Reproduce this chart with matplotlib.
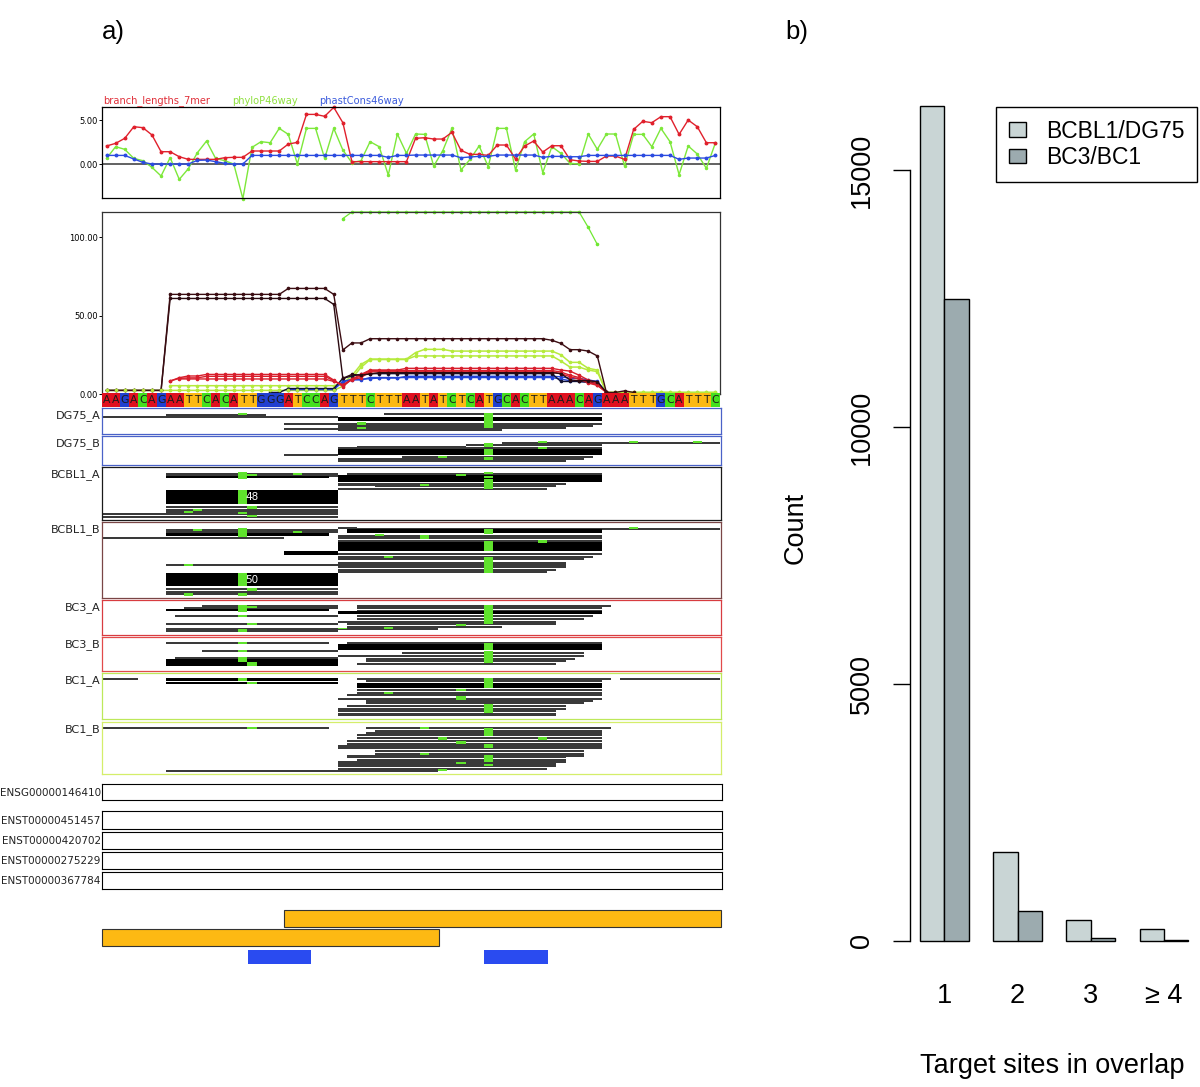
import numpy as np
import matplotlib
matplotlib.use('Agg')
import matplotlib.pyplot as plt
from matplotlib.patches import Patch

W, H = 1200, 1087
nan = float('nan')

# Sequence shown under the coverage plot
sequence = "AAGACAGAATTCACATTGGGATCCAGTTTCTTTAATATCTCATGCACTTAAACAGAAATTTGCATTTC"
base_colors = {'A': '#e0101f', 'C': '#45e01e', 'G': '#2140d0', 'T': '#fdb913'}

# Conservation tracks, one value per base
branch_lengths = [2.05, 2.35, 2.92, 4.24, 4.13, 3.30, 1.40, 1.40, 0.83, 0.53, 0.53, 0.53, 0.53, 0.72, 0.76, 0.76,
                  1.48, 1.48, 1.48, 1.48, 2.27, 2.46, 5.64, 5.64, 5.42, 6.44, 4.70, 0.27, 0.27, 0.27, 0.27, 0.27,
                  0.27, 0.27, 2.92, 2.99, 2.84, 2.84, 3.60, 1.55, 1.10, 1.10, 0.98, 2.16, 2.16, 0.57, 2.05, 2.61,
                  1.36, 2.08, 2.08, 0.49, 0.34, 0.30, 0.30, 0.91, 0.91, 0.53, 3.94, 4.85, 4.70, 5.38, 5.38, 3.37,
                  5.00, 4.24, 2.42, 2.42]
phylop = [0.64, 1.97, 1.67, 0.64, 0.38, -0.38, -1.36, 0.72, -1.74, -0.53, 1.29, 2.61, 0.64, 0.38, 0.00, -3.94,
          1.89, 2.54, 2.42, 4.05, 3.37, 0.00, 4.05, 4.05, 0.64, 4.05, 1.59, 0.15, 0.38, 2.54, 1.97, -1.25,
          3.41, 1.21, 3.41, 3.37, -0.23, 1.52, 4.05, -0.68, 0.53, 2.05, -0.30, 4.05, 4.05, -0.68, 2.54, 3.41,
          -0.98, 1.97, 1.21, 0.08, 0.00, 3.41, 1.67, 3.41, 3.41, -0.23, 3.37, 3.37, 1.97, 4.05, 2.54, -1.21,
          2.05, 1.14, -0.49, 2.42]
phastcons = [0.98, 0.98, 0.98, 0.57, 0.19, 0.00, 0.00, 0.00, 0.00, 0.00, 0.42, 0.45, 0.27, 0.08, 0.00, 0.00,
             0.98, 0.98, 0.98, 0.98, 0.98, 0.98, 0.98, 0.98, 0.98, 0.98, 0.98, 0.98, 0.98, 0.98, 0.98, 0.76,
             0.98, 0.98, 1.02, 1.02, 1.02, 1.02, 1.02, 0.72, 0.80, 0.87, 0.87, 1.02, 1.02, 1.02, 1.02, 1.02,
             0.76, 0.87, 0.87, 0.83, 0.83, 0.98, 0.98, 0.98, 0.98, 0.98, 0.98, 0.98, 0.98, 0.98, 0.98, 0.53,
             0.68, 0.68, 0.68, 0.98]

# Coverage per base for each library
cov_bright = [nan]*26 + [112.0] + [116.2]*26 + [106.4, 95.5] + [nan]*13
cov_lime1 = [nan]*7 + [5.3]*19 + [6.8, 11.7, 18.9] + [22.3]*5 + [26.4] + [28.5]*3 + [27.4]*12 + \
    [25.0, 20.2, 20.2, 16.4, 15.3, 1.0] + [1.0]*12
cov_lime2 = [2.3]*26 + [5.0, 10.0, 17.0] + [22.0]*5 + [24.3]*16 + [21.0, 17.2, 17.2, 15.3, 14.3, 1.0] + [1.0]*12
cov_blue1 = [nan]*20 + [3.2]*6 + [7.9, 9.4, 9.4, 9.8] + [10.2]*3 + [11.3]*17 + [11.0, 10.0, 10.0, 9.0, 8.0, 1.0] + [nan]*12
cov_blue2 = [nan]*20 + [2.8]*6 + [8.0, 9.0, 9.0] + [10.5]*21 + [9.5, 8.5, 8.0, 7.5, 7.0, 1.0] + [nan]*12
cov_navy = [nan]*18 + [1.0, 1.0] + [3.5]*6 + [10.0, 11.5, 12.5, 13.0] + [13.0]*20 + [8.0, 8.0, 8.0, 7.5, 7.0, 1.0] + [nan]*12
cov_red1 = [nan]*7 + [8.3, 10.4, 11.5, 11.5] + [12.5]*14 + [8.9, 4.7, 9.5, 12.5] + [15.3]*4 + [16.4]*17 + \
    [15.3, 14.6, 12.0, 8.9, 6.8, 1.0] + [nan]*12
cov_red2 = [nan]*7 + [8.3, 10.0, 10.3, 10.3] + [11.3]*14 + [8.5, 5.5, 9.5, 11.5] + [15.0]*21 + \
    [14.0, 12.0, 10.5, 7.5, 6.0, 1.0] + [nan]*12
cov_red3 = [nan]*8 + [9.6]*17 + [8.0, 6.0, 9.0, 10.5] + [14.2]*21 + [13.0, 11.0, 9.5, 7.0, 5.5, 1.0] + [nan]*12
cov_dark1 = [2.3]*7 + [63.6]*13 + [67.4]*5 + [63.6, 28.1, 32.6, 32.6] + [35.3]*20 + \
    [34.3, 32.3, 28.3, 28.3, 27.4, 24.3, 1.0, 1.0, 2.0, 1.0] + [nan]*9
cov_dark2 = [2.3]*7 + [61.0]*18 + [57.2, 10.0, 12.5, 12.0, 12.8] + [13.6]*20 + [13.0, 9.0, 8.5, 8.5, 7.9, 1.0] + [nan]*12

# Aligned reads: thin rows (start, end, row) and solid piles (start, end, row, depth)
# Mismatches: (column, row, depth)
dg75_a_reads = [(0, 26, 2.9), (7, 18, 2.2), (20, 26, 5.6), (20, 26, 7.5), (31, 55, 2.0), (26, 55, 5.6), (26, 54, 6.3),
                (26, 51, 7.0), (26, 44, 7.7)]
dg75_a_piles = [(26, 55, 3.4, 1.6)]
dg75_a_mism = [(42, 1.8, 5.8), (15, 2.0, 0.7), (28, 5.4, 0.8), (28, 7.3, 0.7)]

dg75_b_reads = [(44, 68, 2.1), (40, 55, 3.0), (28, 40, 3.6), (26, 55, 4.0), (20, 26, 6.6), (33, 54, 7.6), (26, 53, 8.2),
                (26, 51, 8.9)]
dg75_b_piles = [(26, 55, 4.8, 2.2)]
dg75_b_mism = [(48, 2.0, 0.7), (58, 2.0, 0.7), (65, 2.0, 0.7), (48, 4.0, 0.7), (42, 2.5, 1.5), (42, 4.7, 2.4),
               (42, 7.8, 1.2), (37, 7.5, 0.7)]

bcbl1_a_reads = [(7, 26, 2.2), (7, 26, 2.9), (7, 26, 14.6), (7, 26, 15.6), (7, 26, 16.5), (0, 26, 17.4), (0, 26, 18.4),
                 (27, 55, 2.2), (26, 51, 6.0), (26, 30, 6.4), (30, 50, 6.9), (26, 49, 7.9)]
bcbl1_a_piles = [(7, 25, 3.4, 0.9), (7, 26, 8.75, 5.0), (26, 55, 3.1, 2.5)]
bcbl1_a_mism = [(15, 2.0, 2.6), (16, 2.7, 0.7), (21, 2.2, 0.7), (9, 16.4, 0.9), (10, 15.6, 0.7), (15, 17.0, 0.7),
                (16, 18.0, 0.7), (15, 8.75, 5.0), (16, 14.7, 1.2), (42, 2.0, 0.6), (42, 3.3, 1.0), (42, 4.6, 3.5),
                (39, 2.6, 0.7), (35, 6.3, 0.7)]

bcbl1_b_reads = [(7, 26, 2.6), (7, 26, 3.3), (0, 20, 5.7), (7, 26, 15.6), (7, 26, 24.9), (7, 26, 25.9), (7, 26, 26.7),
                 (26, 28, 2.0), (28, 68, 2.1), (27, 55, 3.0), (26, 55, 4.9), (26, 55, 5.8), (26, 55, 6.6),
                 (26, 55, 11.6), (26, 54, 12.7), (26, 53, 13.6), (26, 51, 14.8), (26, 51, 15.7), (26, 51, 16.6),
                 (26, 50, 17.5), (26, 49, 18.4)]
bcbl1_b_piles = [(7, 25, 4.0, 1.2), (7, 26, 19.1, 5.0), (20, 26, 11.0, 1.5), (27, 55, 2.7, 1.6), (26, 55, 7.5, 3.2)]
bcbl1_b_mism = [(15, 2.4, 3.2), (10, 2.6, 0.7), (21, 3.3, 0.7), (9, 15.6, 0.7), (15, 19.1, 5.0), (16, 24.6, 1.2),
                (9, 26.7, 0.9), (15, 26.7, 0.9), (58, 1.7, 0.8), (42, 2.6, 1.8), (42, 7.3, 3.6), (42, 13.0, 6.0),
                (35, 5.0, 1.5), (48, 6.8, 1.0), (31, 12.9, 0.7), (30, 4.5, 0.7)]

bc3_a_reads = [(11, 26, 2.0), (9, 26, 2.6), (8, 26, 5.7), (7, 26, 8.5), (7, 26, 10.4), (7, 26, 11.2), (28, 56, 2.0),
               (28, 55, 2.7), (28, 55, 3.6), (28, 54, 5.7), (28, 53, 6.6), (26, 50, 7.7), (27, 50, 8.7),
               (27, 44, 9.6), (26, 37, 10.4)]
bc3_a_piles = [(7, 25, 3.4, 0.9), (26, 28, 4.3, 0.8), (28, 55, 4.2, 1.0)]
bc3_a_mism = [(15, 2.0, 2.6), (16, 2.4, 0.7), (15, 5.5, 0.9), (16, 8.5, 0.9), (15, 11.0, 0.8), (42, 2.0, 7.0),
              (31, 10.0, 0.7), (39, 9.0, 0.7), (26, 10.3, 0.7)]

bc3_b_reads = [(7, 25, 2.0), (11, 26, 5.0), (8, 26, 7.6), (27, 55, 2.0), (33, 53, 5.5), (26, 53, 6.7), (29, 52, 7.7),
               (29, 51, 8.8), (28, 50, 9.6)]
bc3_b_piles = [(7, 26, 8.25, 2.5), (26, 55, 2.6, 2.15)]
bc3_b_mism = [(15, 2.0, 0.7), (15, 5.0, 0.7), (15, 7.5, 1.9), (16, 9.4, 1.5), (42, 2.1, 2.65), (42, 5.2, 4.5)]

bc1_a_reads = [(0, 4, 2.0), (7, 26, 2.2), (28, 56, 2.0), (57, 68, 2.0), (29, 55, 2.8), (28, 55, 6.0), (28, 55, 7.0),
               (27, 55, 8.0), (26, 55, 9.3), (29, 54, 10.1), (29, 53, 11.0), (27, 51, 12.0), (26, 51, 13.0),
               (26, 50, 14.0), (26, 50, 14.9), (26, 50, 15.5)]
bc1_a_piles = [(7, 26, 2.0, 1.0), (7, 26, 3.2, 0.9), (28, 55, 3.9, 1.8)]
bc1_a_mism = [(15, 1.8, 1.2), (16, 3.3, 1.0), (42, 1.8, 4.0), (39, 6.0, 0.9), (39, 8.6, 1.5), (31, 7.2, 0.7),
              (42, 11.5, 3.5)]

bc1_b_reads = [(0, 25, 2.0), (7, 26, 18.0), (29, 56, 2.0), (30, 55, 2.9), (29, 55, 3.7), (28, 55, 4.6), (28, 55, 5.6),
               (27, 55, 6.8), (27, 55, 7.8), (26, 55, 8.7), (26, 55, 9.4), (30, 53, 10.6), (30, 53, 11.6),
               (27, 53, 12.5), (27, 51, 12.9), (28, 51, 13.7), (26, 51, 14.6), (26, 50, 15.4), (26, 50, 16.2),
               (26, 49, 17.1), (26, 37, 18.0)]
bc1_b_piles = []
bc1_b_mism = [(16, 2.0, 0.7), (35, 2.0, 0.7), (42, 2.3, 2.9), (37, 5.7, 0.9), (39, 7.0, 1.2), (48, 5.7, 0.9),
              (42, 8.2, 1.4), (35, 11.6, 0.8), (42, 12.2, 2.8), (39, 15.0, 0.7), (42, 15.7, 0.7), (37, 17.5, 0.9)]

track_names = ['DG75_A', 'DG75_B', 'BCBL1_A', 'BCBL1_B', 'BC3_A', 'BC3_B', 'BC1_A', 'BC1_B']
track_reads = [dg75_a_reads, dg75_b_reads, bcbl1_a_reads, bcbl1_b_reads, bc3_a_reads, bc3_b_reads, bc1_a_reads, bc1_b_reads]
track_piles = [dg75_a_piles, dg75_b_piles, bcbl1_a_piles, bcbl1_b_piles, bc3_a_piles, bc3_b_piles, bc1_a_piles, bc1_b_piles]
track_mism = [dg75_a_mism, dg75_b_mism, bcbl1_a_mism, bcbl1_b_mism, bc3_a_mism, bc3_b_mism, bc1_a_mism, bc1_b_mism]

gene_names = ['ENSG00000146410', 'ENST00000451457', 'ENST00000420702', 'ENST00000275229', 'ENST00000367784']

# Site annotations below the gene models (start, end)
orange_sites = [(20, 68), (0, 37)]
blue_sites = [(16, 23), (42, 49)]

# Panel b
overlap_labels = ['1', '2', '3', '\u2265 4']
counts_bcbl1 = [16250, 1730, 410, 230]
counts_bc3 = [12490, 585, 60, 15]


def px_axes(fig, x0, y0, x1, y1):
    # axes from pixel box, y measured from the top of the picture
    return fig.add_axes([x0 / W, 1 - y1 / H, (x1 - x0) / W, (y1 - y0) / H])


plt.rcParams['font.family'] = 'DejaVu Sans'
fig = plt.figure(figsize=(W / 100, H / 100), dpi=100)
helv = ['Liberation Sans', 'DejaVu Sans']
x = np.arange(len(sequence)) + 0.5

# conservation plot
ax = px_axes(fig, 102, 107, 720, 198)
ax.axhline(0, color='#555555', lw=1.3, zorder=1)
ax.plot(x, phylop, '-o', color='#7de83a', lw=1.0, ms=1.5, clip_on=False)
ax.plot(x, branch_lengths, '-o', color='#e0202c', lw=1.0, ms=1.8, clip_on=False)
ax.plot(x, phastcons, '-o', color='#2b4be0', lw=1.0, ms=1.8, clip_on=False)
ax.set_xlim(0, 68)
ax.set_ylim(-3.86, 6.48)
ax.set_xticks([])
ax.set_yticks([0, 5], ['0.00', '5.00'])
ax.tick_params(axis='y', labelsize=6, length=2, pad=1, width=0.7)
for s in ax.spines.values():
    s.set_linewidth(0.9)
ax.text(0.002, 1.008, 'branch_lengths_7mer', color='#e0303a', fontsize=7.1, transform=ax.transAxes, va='bottom')
ax.text(0.2105, 1.008, 'phyloP46way', color='#8fe03f', fontsize=7.1, transform=ax.transAxes, va='bottom')
ax.text(0.352, 1.008, 'phastCons46way', color='#3b5bdc', fontsize=7.1, transform=ax.transAxes, va='bottom')

# coverage plot
ax = px_axes(fig, 102, 212, 720, 394)
for y, col, lw in [(cov_bright, '#6fe831', 0.9), (cov_lime1, '#b5ea3c', 1.1), (cov_lime2, '#b5ea3c', 1.1),
                   (cov_blue2, '#2343d8', 1.0), (cov_blue1, '#2343d8', 1.0), (cov_navy, '#111133', 1.0),
                   (cov_red3, '#d81e2c', 1.0), (cov_red2, '#d81e2c', 1.0), (cov_red1, '#d81e2c', 1.0),
                   (cov_dark2, '#2a0a10', 1.0), (cov_dark1, '#3b0d12', 1.0)]:
    ax.plot(x, y, '-o', color=col, lw=lw, ms=1.6, clip_on=False)
ax.plot(x[:26], cov_lime2[:26], 'o', color='#b5ea3c', ms=1.6, clip_on=False, zorder=4)
ax.set_xlim(0, 68)
ax.set_ylim(0, 116.2)
ax.set_xticks([])
ax.set_yticks([0, 50, 100], ['0.00', '50.00', '100.00'])
ax.tick_params(axis='y', labelsize=6, length=2, pad=1, width=0.7)
for s in ax.spines.values():
    s.set_linewidth(0.9)
    s.set_color('#333333')

# base strip
ax = px_axes(fig, 102, 393, 720, 407)
ax.bar(x, 1, width=1, color=[base_colors[b] for b in sequence])
for xi, b in zip(x, sequence):
    ax.text(xi, 0.47, b, ha='center', va='center', fontsize=7.8, color='#1c1c1c')
ax.set_xlim(0, 68)
ax.set_ylim(0, 1)
ax.axis('off')

# read tracks
track_boxes = [(408, 434), (436, 465), (467, 520), (522, 598), (600, 635), (637, 671), (673, 719), (722, 774)]
track_colors = ['#4a62c8', '#4a62c8', '#1a1a1a', '#7a4646', '#d83c40', '#e24a4a', '#bde85a', '#d4ee6a']
row_px = 2.67
for name, box, col, reads, piles, mism in zip(track_names, track_boxes, track_colors, track_reads, track_piles, track_mism):
    ax = px_axes(fig, 102, box[0], 721, box[1])
    ax.set_xlim(0, 68.1)
    ax.set_ylim((box[1] - box[0]) / row_px, 0)
    for start, end, row in reads:
        ax.barh(row, end - start, left=start, height=0.75, align='edge', color='#3a3a3a', lw=0)
    for start, end, row, depth in piles:
        ax.barh(row, end - start, left=start, height=depth, align='edge', color='black', lw=0)
    for col_i, row, depth in mism:
        ax.bar(col_i, depth, bottom=row, width=1, align='edge', color='#5fe32c', lw=0, zorder=3)
    ax.set_xticks([])
    ax.set_yticks([])
    for s in ax.spines.values():
        s.set_color(col)
        s.set_linewidth(0.9)
    ax.text(-0.15, 3, name, ha='right', va='center', fontsize=8.1, color='#222222', clip_on=False)
    if name == 'BCBL1_A':
        ax.text(16.5, 11.2, '48', color='white', ha='center', va='center', fontsize=7.5, zorder=4)
    if name == 'BCBL1_B':
        ax.text(16.5, 21.6, '50', color='white', ha='center', va='center', fontsize=7.5, zorder=4)

# gene models
gene_boxes = [(784, 800), (811, 829), (832, 849), (852, 869), (872, 889)]
for name, box in zip(gene_names, gene_boxes):
    ax = px_axes(fig, 102, box[0], 722, box[1])
    ax.set_xticks([])
    ax.set_yticks([])
    for s in ax.spines.values():
        s.set_linewidth(0.8)
    ax.text(-0.002, 0.45, name, transform=ax.transAxes, ha='right', va='center', fontsize=7.5, color='#222222')

# site annotations
ax = px_axes(fig, 102, 909, 721, 967)
ax.set_xlim(0, 68)
ax.set_ylim(3, 0)
for (start, end), row in zip(orange_sites, [0, 1]):
    ax.barh(row + 0.04, end - start, left=start, height=0.88, align='edge', color='#fdb913', edgecolor='#333333', lw=0.8,
            clip_on=False)
for start, end in blue_sites:
    ax.barh(2.1, end - start, left=start, height=0.72, align='edge', color='#2a4bf0', lw=0)
ax.axis('off')

fig.text(102 / W, 1 - 32 / H, 'a)', fontsize=18.5, family=helv, va='center', ha='left')
fig.text(785 / W, 1 - 32 / H, 'b)', fontsize=18.5, family=helv, va='center', ha='left')

# panel b bars
ax = px_axes(fig, 910, 100, 1198, 941)
group_x = np.arange(4) * 3 + 2
col_a, col_b = '#c9d5d5', '#9cabaf'
ax.bar(group_x - 0.5, counts_bcbl1, width=1, color=col_a, edgecolor='black', lw=1.0, clip_on=False)
ax.bar(group_x + 0.5, counts_bc3, width=1, color=col_b, edgecolor='black', lw=1.0, clip_on=False)
ax.set_xlim(1 - 10 / 24.4, 1 + 278 / 24.4)
ax.set_ylim(0, 841 / 771 * 15000)
ax.set_xticks(group_x, overlap_labels, fontsize=19.5, family=helv)
ax.tick_params(axis='x', length=0, pad=30)
ax.set_yticks([0, 5000, 10000, 15000])
ax.set_yticklabels(['0', '5000', '10000', '15000'], rotation=90, va='center', fontsize=19.5, family=helv)
ax.tick_params(axis='y', length=12.5, width=1.0, pad=13)
for side in ['top', 'right', 'bottom']:
    ax.spines[side].set_visible(False)
ax.spines['left'].set_bounds(0, 15000)
ax.spines['left'].set_linewidth(1.0)
fig.text(796 / W, 1 - 528 / H, 'Count', rotation=90, fontsize=19.5, family=helv, ha='center', va='center')
fig.text(1052 / W, 1 - 1066 / H, 'Target sites in overlap', fontsize=19.5, family=helv, ha='center', va='center')
ax.legend(handles=[Patch(facecolor=col_a, edgecolor='black', label='BCBL1/DG75'),
                   Patch(facecolor=col_b, edgecolor='black', label='BC3/BC1')],
          loc='upper left', bbox_to_anchor=(996 / W, 1 - 107 / H), bbox_transform=fig.transFigure,
          fancybox=False, framealpha=1, edgecolor='black', borderaxespad=0, prop={'family': helv, 'size': 16.5},
          handlelength=0.78, handleheight=0.6, handletextpad=0.85, borderpad=0.55, labelspacing=0.16)

fig.savefig('out.png', dpi=100)
